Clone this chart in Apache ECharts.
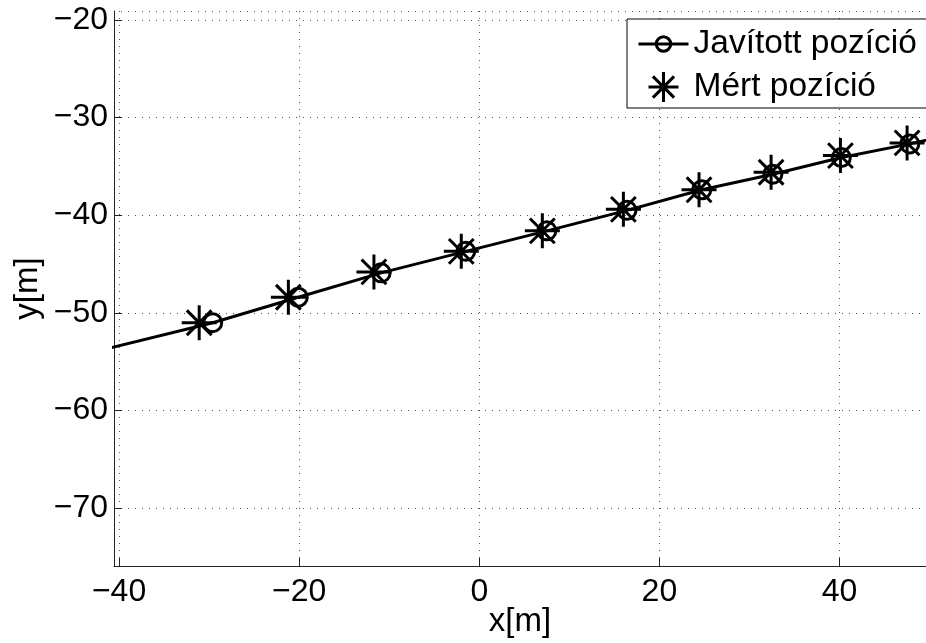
<!DOCTYPE html>
<html><head><meta charset="utf-8">
<script src="https://cdn.jsdelivr.net/npm/echarts@6/dist/echarts.min.js"></script>
<style>html,body{margin:0;padding:0;background:#fff}#c{width:926px;height:643px}</style>
</head><body><div id="c"></div>
<script>
// ---- data ----
const seriesNames = ['Javított pozíció', 'Mért pozíció'];
// corrected positions (line continues beyond the visible area at both ends)
const javX = [-45.0, -29.6, -20.1, -10.9, -1.5, 7.5, 16.4, 24.7, 32.6, 40.2, 47.8, 55.0];
const javY = [-54.5, -51.0, -48.4, -45.9, -43.7, -41.6, -39.5, -37.4, -35.8, -34.1, -32.7, -31.2];
// measured positions
const mertX = [-31.1, -21.2, -11.7, -2.0, 7.0, 16.0, 24.4, 32.4, 40.1, 47.5];
const mertY = [-51.0, -48.4, -45.8, -43.7, -41.6, -39.4, -37.4, -35.6, -33.9, -32.6];
const xRange = [-40.56, 49.6];
const yRange = [-75.9, -19.1];
const xAxisTitle = 'x[m]';
const yAxisTitle = 'y[m]';

const FONT = 'Liberation Sans, Arial, sans-serif';
const starPath = 'path://M50 0L50 100M0 50L100 50M14.64 14.64L85.36 85.36M85.36 14.64L14.64 85.36';
// circle of radius 30 inside a 100x100 box (corner moves set the box)
const circlePath = 'path://M0 0M100 100M80 50A30 30 0 1 1 20 50A30 30 0 1 1 80 50Z';
const fmt = v => String(v).replace('-', '\u2212');

const chart = echarts.init(document.getElementById('c'), null, {renderer: 'canvas'});
const gridLine = {show: true, lineStyle: {color: '#555', width: 1, type: [1, 6]}};
chart.setOption({
  animation: false,
  backgroundColor: '#fff',
  grid: {left: 114, right: 0, top: 11, bottom: 77, containLabel: false, outerBoundsMode: 'none'},
  xAxis: {
    type: 'value', min: xRange[0], max: xRange[1], splitNumber: 5,
    name: xAxisTitle, nameLocation: 'middle', nameGap: 39, nameMoveOverlap: false,
    nameTextStyle: {fontFamily: FONT, fontSize: 33, color: '#000'},
    axisLine: {show: true, onZero: false, lineStyle: {color: '#222', width: 1}},
    axisTick: {show: true, inside: true, length: 8, lineStyle: {color: '#222'}},
    axisLabel: {fontFamily: FONT, fontSize: 32, color: '#000', margin: 10,
      showMinLabel: false, showMaxLabel: false, formatter: fmt},
    splitLine: gridLine
  },
  yAxis: {
    type: 'value', min: yRange[0], max: yRange[1], splitNumber: 5,
    name: yAxisTitle, nameLocation: 'middle', nameGap: 70, nameRotate: 90, nameMoveOverlap: false,
    nameTextStyle: {fontFamily: FONT, fontSize: 33, color: '#000'},
    axisLine: {show: true, onZero: false, lineStyle: {color: '#222', width: 1}},
    axisTick: {show: true, inside: true, length: 8, lineStyle: {color: '#222'}},
    axisLabel: {fontFamily: FONT, fontSize: 32, color: '#000', margin: 6,
      showMinLabel: false, showMaxLabel: false, formatter: fmt},
    splitLine: gridLine
  },
  legend: {
    orient: 'vertical', left: 627, top: 19,
    padding: [8, 24, 4, 10], itemGap: 9,
    itemWidth: 50, itemHeight: 30,
    backgroundColor: '#fff', borderColor: '#000', borderWidth: 1,
    textStyle: {fontFamily: FONT, fontSize: 33.5, color: '#000'},
    data: [
      {name: seriesNames[0],
       lineStyle: {color: '#000', width: 3},
       itemStyle: {color: 'transparent', borderColor: '#000', borderWidth: 3}},
      {name: seriesNames[1], icon: starPath,
       itemStyle: {color: 'transparent', borderColor: '#000', borderWidth: 3}}
    ]
  },
  series: [
    {
      name: seriesNames[0], type: 'line', clip: true,
      data: javX.map((x, i) => [x, javY[i]]),
      symbol: circlePath, symbolSize: 30, showAllSymbol: true,
      lineStyle: {color: '#000', width: 3},
      itemStyle: {color: 'transparent', borderColor: '#000', borderWidth: 3},
      z: 3
    },
    {
      name: seriesNames[1], type: 'scatter', clip: true,
      data: mertX.map((x, i) => [x, mertY[i]]),
      symbol: starPath, symbolSize: 35, symbolKeepAspect: true,
      itemStyle: {color: 'transparent', borderColor: '#000', borderWidth: 3, opacity: 1},
      z: 4
    }
  ]
});
</script></body></html>
